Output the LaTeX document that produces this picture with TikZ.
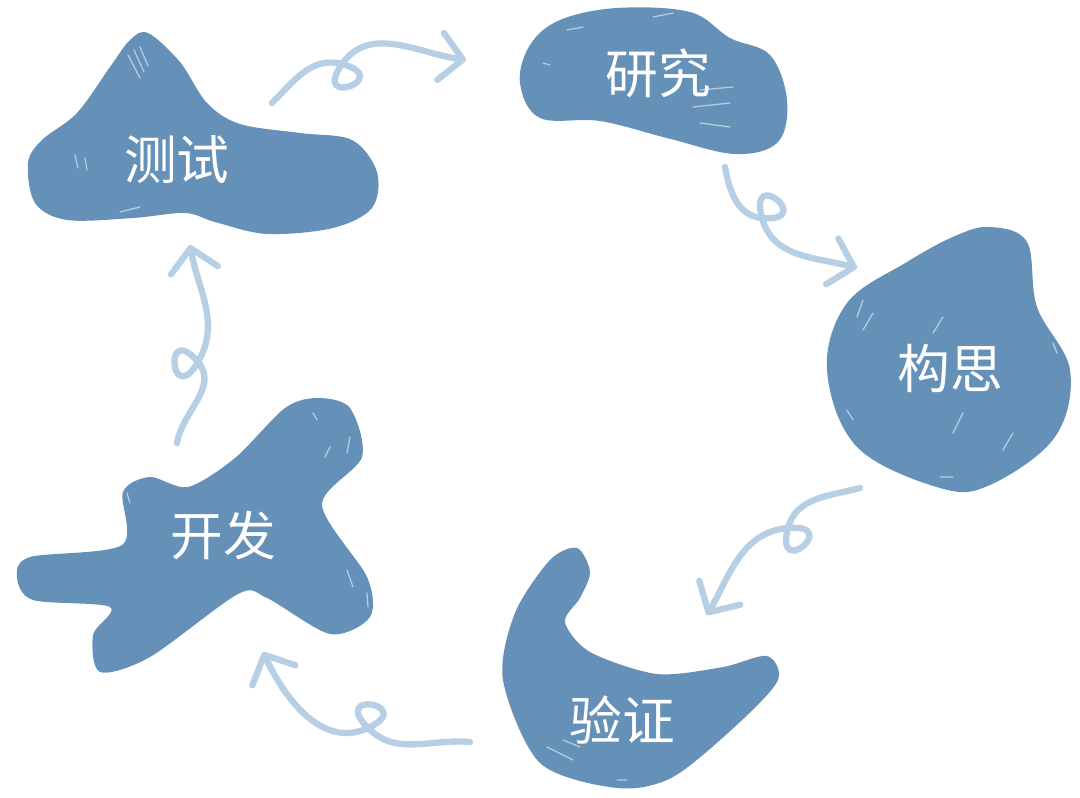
\documentclass[tikz,border=0pt]{standalone}
\usepackage{fontspec}
\usepackage{xcolor}
\usepackage{tikz}
\usetikzlibrary{arrows.meta}
\newfontfamily\cjk{Noto Sans CJK SC}
\definecolor{blobblue}{RGB}{101,145,184}
\definecolor{flowblue}{RGB}{183,207,229}

\begin{document}
\begin{tikzpicture}[x=0.02cm, y=-0.02cm,
  blob/.style={fill=blobblue},
  streak/.style={white, line width=0.7pt, opacity=0.55, line cap=round},
  flow/.style={flowblue, line width=3.6pt, line cap=round,
    -{Straight Barb[length=0.45cm, width=0.95cm, round]}},
  lbl/.style={text=white, font=\cjk\fontsize{30}{36}\selectfont}]
\useasboundingbox (0,0) rectangle (1080,798);

\coordinate (test-out) at (272,103);
\coordinate (loop1) at (342,64);
\coordinate (research-in) at (466,60);
\coordinate (research-out) at (725,167);
\coordinate (loop2) at (762,218);
\coordinate (idea-in) at (857,268);
\coordinate (idea-out) at (860,488);
\coordinate (loop3) at (788,528);
\coordinate (verify-in) at (707,615);
\coordinate (verify-out) at (470,742);
\coordinate (loop4) at (368,728);
\coordinate (develop-in) at (263,652);
\coordinate (develop-out) at (177,443);
\coordinate (loop5) at (198,362);
\coordinate (test-in) at (190,245);

% blobs
\fill[blob] plot[smooth cycle, tension=0.55] coordinates {
  (148,33) (180,62) (207,103) (240,124) (300,133) (352,140) (377,172)
  (372,208) (333,228) (267,234) (215,222) (185,213) (133,218) (67,220)
  (35,203) (28,163) (42,140) (77,113) (110,67) (130,40)};
\fill[blob] plot[smooth cycle, tension=0.6] coordinates {
  (520,83) (530,45) (560,20) (617,8) (690,12) (730,38) (770,55)
  (787,100) (778,142) (735,154) (667,138) (600,121) (540,118)};
\fill[blob] plot[smooth cycle, tension=0.6] coordinates {
  (990,227) (1027,242) (1037,307) (1070,370) (1055,437) (990,485)
  (940,488) (857,447) (827,370) (847,303) (907,262) (955,236)};
\fill[blob] plot[smooth cycle, tension=0.5] coordinates {
  (577,548) (590,572) (580,598) (565,622) (590,652) (657,674) (723,667)
  (767,656) (778,680) (740,722) (673,777) (617,788) (540,763) (503,680)
  (515,613) (550,560)};
\fill[blob] plot[smooth cycle, tension=0.5] coordinates {
  (350,408) (362,457) (322,505) (367,577) (370,617) (330,634) (267,598)
  (238,594) (150,657) (100,672) (93,635) (110,607) (33,600) (17,577)
  (30,557) (122,545) (123,492) (150,477) (188,487) (235,458) (285,408)
  (318,398)};

\draw[streak]
  (128,55)--(140,78) (134,50)--(144,72) (140,47)--(148,66)
  (75,155)--(78,168) (85,158)--(87,170) (120,212)--(140,207)
  (567,30)--(583,27) (653,17)--(673,13) (543,63)--(550,65)
  (700,90)--(733,87) (693,107)--(730,103) (700,123)--(730,127)
  (863,300)--(857,317) (873,313)--(863,330) (943,317)--(933,333)
  (963,413)--(953,433) (1013,433)--(1003,450) (940,477)--(953,477)
  (1053,343)--(1057,353) (847,410)--(853,420)
  (547,747)--(573,760) (563,740)--(580,747) (617,780)--(627,780)
  (313,413)--(317,420) (350,437)--(347,453) (330,447)--(325,457)
  (347,570)--(353,587) (367,593)--(368,607) (127,493)--(130,503);

% labels
\node[lbl] (test) at (177,160) {测试};
\node[lbl] (research) at (658,73) {研究};
\node[lbl] (idea) at (950,368) {构思};
\node[lbl] (verify) at (622,720) {验证};
\node[lbl] (develop) at (223,535) {开发};

% arrows with loops
\draw[flow] (test-out) to[out=45,in=165] (loop1)
  to[out=-15,in=-125,distance=1.1cm] (loop1)
  to[out=55,in=172] (research-in);
\draw[flow] (research-out) to[out=-80,in=175] (loop2)
  to[out=-5,in=105,distance=1.1cm] (loop2)
  to[out=-75,in=165] (idea-in);
\draw[flow] (idea-out) to[out=-165,in=75] (loop3)
  to[out=-105,in=5,distance=1.1cm] (loop3)
  to[out=-175,in=60] (verify-in);
\draw[flow] (verify-out) to[out=175,in=-45] (loop4)
  to[out=135,in=25,distance=1.1cm] (loop4)
  to[out=205,in=-65] (develop-in);
\draw[flow] (develop-out) to[out=80,in=-50] (loop5)
  to[out=130,in=240,distance=1.1cm] (loop5)
  to[out=60,in=-80] (test-in);
\end{tikzpicture}
\end{document}
